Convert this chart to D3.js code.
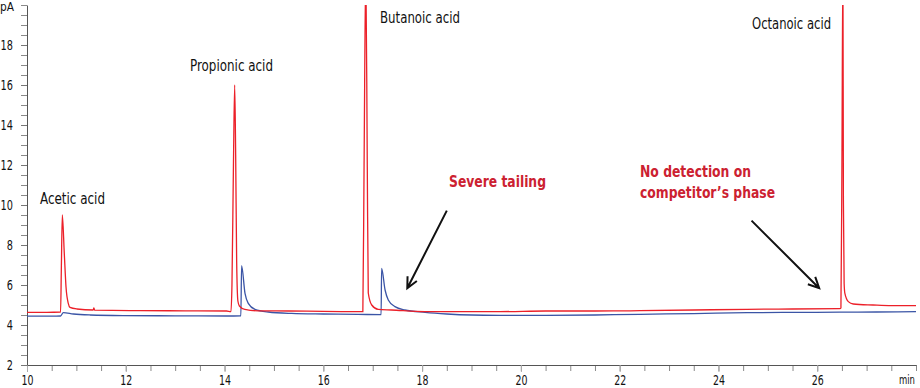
<!DOCTYPE html>
<html>
<head>
<meta charset="utf-8">
<script src="https://cdn.jsdelivr.net/npm/d3@7"></script>
<style>
  body { margin: 0; background: #fff; }
  svg { display: block; }
  text { font-family: 'Liberation Sans Narrow', 'DejaVu Sans Condensed', 'Arial Narrow', sans-serif; }
</style>
</head>
<body>
<div id="chart"></div>
<script>
// red trace : retention time (min) / signal (pA)
var redTime = [10.0, 10.4, 10.68, 10.695, 10.715, 10.755, 10.79, 10.836, 10.87, 11.01, 11.34, 11.355, 11.37, 12.29, 13.2, 14.04, 14.13,
  14.15, 14.18, 14.205, 14.225, 14.245, 14.27, 14.30, 14.41, 14.68, 15.3, 16.0, 16.5, 16.80,
  16.825, 16.86, 16.89, 16.91, 16.98, 17.11, 17.38, 18.06, 18.77, 19.58, 20.5, 21.5, 22.41, 23.5, 24.58, 25.5, 26.46,
  26.48, 26.50, 26.52, 26.53, 26.545, 26.56, 26.63, 26.73, 27.13, 27.5, 27.94, 28.0];
var redSignal = [4.63, 4.63, 4.65, 6.75, 9.5, 7.58, 5.9, 5.08, 4.88, 4.8, 4.75, 4.85, 4.74, 4.72, 4.71, 4.70, 4.67,
  6.0, 12.0, 16.0, 12.5, 7.2, 5.2, 4.95, 4.78, 4.71, 4.70, 4.68, 4.67, 4.67,
  12.0, 22.0, 11.9, 5.6, 5.0, 4.78, 4.75, 4.67, 4.67, 4.67, 4.7, 4.70, 4.715, 4.75, 4.785, 4.8, 4.815,
  4.85, 12.0, 22.0, 10.25, 6.08, 5.58, 5.17, 5.05, 5.0, 4.97, 4.97, 4.97];

// blue trace (competitor phase)
var blueTime = [10.0, 10.5, 10.68, 10.735, 10.94, 11.28, 11.94, 13.0, 14.04, 14.33,
  14.345, 14.414, 14.48, 14.616, 14.885, 15.36, 16.0, 16.70, 17.17,
  17.18, 17.25, 17.315, 17.45, 17.65, 18.06, 18.5, 19.0, 19.58, 20.5, 21.5, 22.41, 23.5, 24.58, 25.5, 26.46, 27.2, 28.0];
var blueSignal = [4.44, 4.44, 4.45, 4.62, 4.55, 4.5, 4.47, 4.46, 4.45, 4.46,
  6.97, 5.58, 5.08, 4.78, 4.65, 4.58, 4.55, 4.53, 4.52,
  6.83, 5.75, 5.25, 4.92, 4.75, 4.63, 4.55, 4.5, 4.485, 4.48, 4.5, 4.535, 4.57, 4.615, 4.63, 4.64, 4.65, 4.665];

var xTicks = [10, 12, 14, 16, 18, 20, 22, 24, 26];
var yTicks = [2, 4, 6, 8, 10, 12, 14, 16, 18];
var peakNames = ["Acetic acid", "Propionic acid", "Butanoic acid", "Octanoic acid"];

var width = 920, height = 388;
var margin = {top: 5, right: 4, bottom: 23, left: 27};

var x = d3.scaleLinear().domain([10, 28]).range([margin.left, width - margin.right]);
var y = d3.scaleLinear().domain([2, 20]).range([height - margin.bottom, margin.top]);

var svg = d3.select('#chart').append('svg')
    .attr('width', width)
    .attr('height', height);

svg.append('clipPath').attr('id', 'plot')
  .append('rect')
    .attr('x', margin.left).attr('y', margin.top)
    .attr('width', x.range()[1] - margin.left)
    .attr('height', y.range()[0] - margin.top);

// minor ticks every 0.5
svg.append('g')
    .attr('transform', 'translate(0,' + y(2) + ')')
    .call(d3.axisBottom(x).tickValues(d3.range(10, 28.01, 0.5)).tickSize(6).tickFormat(''))
    .call(g => g.select('.domain').remove())
    .call(g => g.selectAll('line').attr('stroke', '#8a8a8a'));

svg.append('g')
    .attr('transform', 'translate(' + x(10) + ',0)')
    .call(d3.axisLeft(y).tickValues(d3.range(2, 20.01, 0.5)).tickSize(6).tickFormat(''))
    .call(g => g.select('.domain').remove())
    .call(g => g.selectAll('line').attr('stroke', '#8a8a8a'));

// main axes
var xAxis = svg.append('g')
    .attr('transform', 'translate(0,' + y(2) + ')')
    .call(d3.axisBottom(x).tickValues(xTicks).tickSize(7).tickSizeOuter(0).tickPadding(3));
xAxis.select('.domain').attr('stroke', '#555');
xAxis.selectAll('line').attr('stroke', '#aaa');
xAxis.selectAll('text').attr('font-size', 14).attr('fill', '#111')
    .attr('textLength', d => String(d).length * 6)
    .attr('lengthAdjust', 'spacingAndGlyphs');

var yAxis = svg.append('g')
    .attr('transform', 'translate(' + x(10) + ',0)')
    .call(d3.axisLeft(y).tickValues(yTicks).tickSize(6).tickSizeOuter(0).tickPadding(8));
yAxis.select('.domain').attr('stroke', '#555');
yAxis.selectAll('line').attr('stroke', '#777');
yAxis.selectAll('text').attr('font-size', 14).attr('fill', '#111')
    .attr('textLength', d => String(d).length * 6.2)
    .attr('lengthAdjust', 'spacingAndGlyphs');
svg.selectAll('.tick text').attr('font-family', null);

svg.append('text')
    .attr('x', x(28) - 1).attr('y', 384)
    .attr('text-anchor', 'end')
    .attr('font-size', 13).attr('fill', '#111')
    .attr('textLength', 16).attr('lengthAdjust', 'spacingAndGlyphs')
    .text('min');

svg.append('text')
    .attr('x', 0).attr('y', 11)
    .attr('font-size', 13).attr('fill', '#111')
    .attr('textLength', 14).attr('lengthAdjust', 'spacingAndGlyphs')
    .text('pA');

// traces
var line = d3.line()
    .x(d => x(d[0]))
    .y(d => y(d[1]))
    .curve(d3.curveMonotoneX);

var blueData = blueTime.map((t, i) => [t, blueSignal[i]]);
var redData = redTime.map((t, i) => [t, redSignal[i]]);

var traces = svg.append('g').attr('clip-path', 'url(#plot)');
traces.append('path')
    .datum(blueData)
    .attr('fill', 'none')
    .attr('stroke', '#3b55a6')
    .attr('stroke-width', 1.3)
    .attr('d', line);
traces.append('path')
    .datum(redData)
    .attr('fill', 'none')
    .attr('stroke', '#ec2029')
    .attr('stroke-width', 1.3)
    .attr('d', line);

// peak names
var namePos = [[40, 204, 65], [190, 71, 83], [380, 23, 80], [752, 29, 79]];
svg.selectAll('.peak')
    .data(peakNames)
    .enter().append('text')
    .attr('class', 'peak')
    .attr('x', (d, i) => namePos[i][0])
    .attr('y', (d, i) => namePos[i][1])
    .attr('textLength', (d, i) => namePos[i][2])
    .attr('lengthAdjust', 'spacingAndGlyphs')
    .attr('font-size', 15)
    .attr('fill', '#111')
    .text(d => d);

// red callouts
var callout = svg.append('g')
    .attr('fill', '#cc2131')
    .attr('font-weight', 'bold')
    .attr('font-size', 16);
callout.append('text').attr('x', 449).attr('y', 187)
    .attr('textLength', 97).attr('lengthAdjust', 'spacingAndGlyphs').text('Severe tailing');
callout.append('text').attr('x', 640).attr('y', 177)
    .attr('textLength', 111).attr('lengthAdjust', 'spacingAndGlyphs').text('No detection on');
callout.append('text').attr('x', 640).attr('y', 198)
    .attr('textLength', 135).attr('lengthAdjust', 'spacingAndGlyphs').text('competitor\u2019s phase');

// arrows (from, to) in data units
var arrows = [
  [[18.50, 9.72], [17.70, 5.84]],
  [[24.67, 9.22], [26.04, 5.84]]
];
arrows.forEach(function(a) {
  var x0 = x(a[0][0]), y0 = y(a[0][1]), x1 = x(a[1][0]), y1 = y(a[1][1]);
  var ang = Math.atan2(y1 - y0, x1 - x0);
  var len = 12, spread = 0.45;
  var p = d3.path();
  p.moveTo(x0, y0); p.lineTo(x1, y1);
  p.moveTo(x1 - len * Math.cos(ang - spread), y1 - len * Math.sin(ang - spread));
  p.lineTo(x1, y1);
  p.lineTo(x1 - len * Math.cos(ang + spread), y1 - len * Math.sin(ang + spread));
  svg.append('path')
      .attr('d', p.toString())
      .attr('fill', 'none')
      .attr('stroke', '#111')
      .attr('stroke-width', 2);
});
</script>
</body>
</html>
